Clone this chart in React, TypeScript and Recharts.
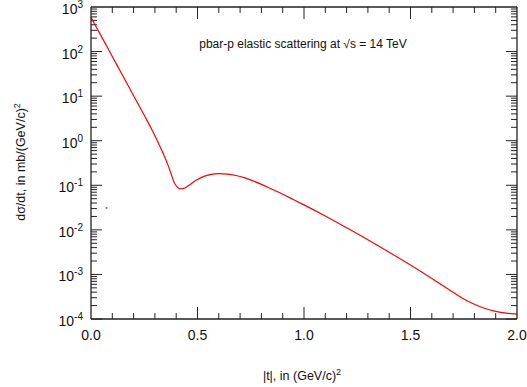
import { Line, LineChart, XAxis, YAxis, ReferenceLine, Label } from 'recharts';

// |t| in (GeV/c)^2 and dσ/dt in mb/(GeV/c)^2
const tValues = [0, 0.05, 0.1, 0.15, 0.2, 0.25, 0.28, 0.3, 0.32, 0.34, 0.36, 0.37, 0.38, 0.39, 0.4, 0.41, 0.42, 0.43, 0.44, 0.46, 0.48, 0.5, 0.53, 0.56, 0.6, 0.64, 0.68, 0.72, 0.76, 0.8, 0.85, 0.9, 0.95, 1.0, 1.1, 1.2, 1.3, 1.4, 1.5, 1.6, 1.7, 1.75, 1.8, 1.85, 1.9, 1.95, 2.0];
const dsdtValues = [585, 214, 77.6, 28.2, 10.2, 3.72, 2.0, 1.29, 0.813, 0.501, 0.295, 0.219, 0.158, 0.117, 0.0977, 0.0871, 0.0836, 0.0841, 0.0871, 0.1, 0.117, 0.135, 0.158, 0.174, 0.182, 0.178, 0.166, 0.148, 0.126, 0.105, 0.0813, 0.0631, 0.0479, 0.0363, 0.0204, 0.0112, 0.00603, 0.00316, 0.00162, 0.000813, 0.000398, 0.000282, 0.000214, 0.000172, 0.000148, 0.000135, 0.000129];

// axis ticks
const xAllTicks = [0.1, 0.2, 0.3, 0.4, 0.5, 0.6, 0.7, 0.8, 0.9, 1.0, 1.1, 1.2, 1.3, 1.4, 1.5, 1.6, 1.7, 1.8, 1.9];
const xMajorTicks = [0, 0.5, 1.0, 1.5, 2.0];
const yMajorTicks = [1e-4, 1e-3, 1e-2, 1e-1, 1, 10, 100, 1000];
const minorSteps = [1, 2, 3, 4, 5, 6, 7, 8, 9];

const data = tValues.map((t, i) => ({ t, v: dsdtValues[i] }));
const yAllTicks = yMajorTicks.slice(0, -1).flatMap((d) => minorSteps.map((k) => Number((k * d).toPrecision(3))));

const FONT = 'Liberation Sans, Arial, sans-serif';
const AXIS = '#222';
const X_DOMAIN = [0, 2];
const Y_DOMAIN = [1e-4, 1e3];
// tick lengths in data units (about 6px / 11px)
const T_MINOR = 0.028;
const T_MAJOR = 0.052;
const V_MINOR = 1.36;
const V_MAJOR = 1.86;

const isDecade = (v: number) => Math.abs(Math.log10(v) - Math.round(Math.log10(v))) < 1e-6;
const isXMajor = (v: number) => xMajorTicks.some((m) => Math.abs(m - v) < 1e-6);

function YLabelTick({ x, y, payload }: any) {
  const exp = Math.round(Math.log10(payload.value));
  return (
    <text x={x} y={y} textAnchor="end" fontFamily={FONT} fill="#111">
      <tspan dy={7} fontSize={14}>10</tspan>
      <tspan dy={-6} fontSize={10}>{exp}</tspan>
    </text>
  );
}

function XLabelTick({ x, y, payload }: any) {
  return (
    <text x={x} y={y + 21} textAnchor="middle" fontFamily={FONT} fontSize={14} fill="#111">
      {payload.value.toFixed(1)}
    </text>
  );
}

const noText = () => '';

export default function App() {
  const tick = (key: string, a: { x: number; y: number }, b: { x: number; y: number }) => (
    <ReferenceLine key={key} xAxisId="bottom" yAxisId="left" segment={[a, b]} stroke={AXIS} strokeWidth={1} ifOverflow="visible" />
  );
  return (
    <div style={{ position: 'absolute', left: 0, top: 0, background: '#fff' }}>
      <LineChart width={527} height={387} data={data} margin={{ top: 0, right: 0, bottom: 0, left: 0 }}>
        <XAxis
          xAxisId="bottom"
          dataKey="t"
          type="number"
          domain={X_DOMAIN}
          ticks={xMajorTicks}
          interval={0}
          height={68}
          tickSize={0}
          tickMargin={0}
          tickLine={false}
          stroke={AXIS}
          strokeWidth={1.3}
          tick={<XLabelTick />}
        >
          <Label
            content={() => (
              <text x={302} y={380} textAnchor="middle" fontFamily={FONT} fontSize={12.5} fill="#111">
                <tspan>|t|, in (GeV/c)</tspan>
                <tspan dy={-5} fontSize={9}>2</tspan>
              </text>
            )}
          />
        </XAxis>
        <XAxis
          xAxisId="top"
          orientation="top"
          dataKey="t"
          type="number"
          domain={X_DOMAIN}
          ticks={xMajorTicks}
          height={7}
          tickLine={false}
          tickFormatter={noText}
          stroke={AXIS}
          strokeWidth={1.3}
        >
          <Label
            content={() => (
              <text x={303} y={48} textAnchor="middle" fontFamily={FONT} fontSize={12} fill="#111">
                pbar-p elastic scattering at √s = 14 TeV
              </text>
            )}
          />
        </XAxis>
        <YAxis
          yAxisId="left"
          scale="log"
          domain={Y_DOMAIN}
          ticks={yMajorTicks}
          interval={0}
          width={91}
          tickSize={0}
          tickMargin={8}
          tickLine={false}
          stroke={AXIS}
          strokeWidth={1.3}
          tick={<YLabelTick />}
        >
          <Label
            content={() => (
              <text transform="translate(25,162) rotate(-90)" textAnchor="middle" fontFamily={FONT} fontSize={12.5} fill="#111">
                <tspan>dσ/dt, in mb/(GeV/c)</tspan>
                <tspan dy={-5} fontSize={9}>2</tspan>
              </text>
            )}
          />
        </YAxis>
        <YAxis
          yAxisId="right"
          orientation="right"
          scale="log"
          domain={Y_DOMAIN}
          ticks={yMajorTicks}
          width={10}
          tickLine={false}
          tickFormatter={noText}
          stroke={AXIS}
          strokeWidth={1.3}
        />

        {/* inward tick marks on all four sides */}
        {yAllTicks.map((v) => {
          const len = isDecade(v) ? T_MAJOR : T_MINOR;
          return [
            tick(`l${v}`, { x: 0, y: v }, { x: len, y: v }),
            tick(`r${v}`, { x: 2, y: v }, { x: 2 - len, y: v }),
          ];
        })}
        {xAllTicks.map((t) => {
          const f = isXMajor(t) ? V_MAJOR : V_MINOR;
          return [
            tick(`b${t}`, { x: t, y: 1e-4 }, { x: t, y: 1e-4 * f }),
            tick(`t${t}`, { x: t, y: 1000 }, { x: t, y: 1000 / f }),
          ];
        })}

        <ReferenceLine
          xAxisId="bottom"
          yAxisId="left"
          segment={[{ x: 0.069, y: 0.031 }, { x: 0.077, y: 0.031 }]}
          stroke="#000"
          strokeWidth={1}
        />
        <Line
          xAxisId="bottom"
          yAxisId="left"
          dataKey="v"
          type="monotone"
          stroke="#ff0000"
          strokeWidth={1.2}
          dot={false}
          isAnimationActive={false}
        />
      </LineChart>
    </div>
  );
}
